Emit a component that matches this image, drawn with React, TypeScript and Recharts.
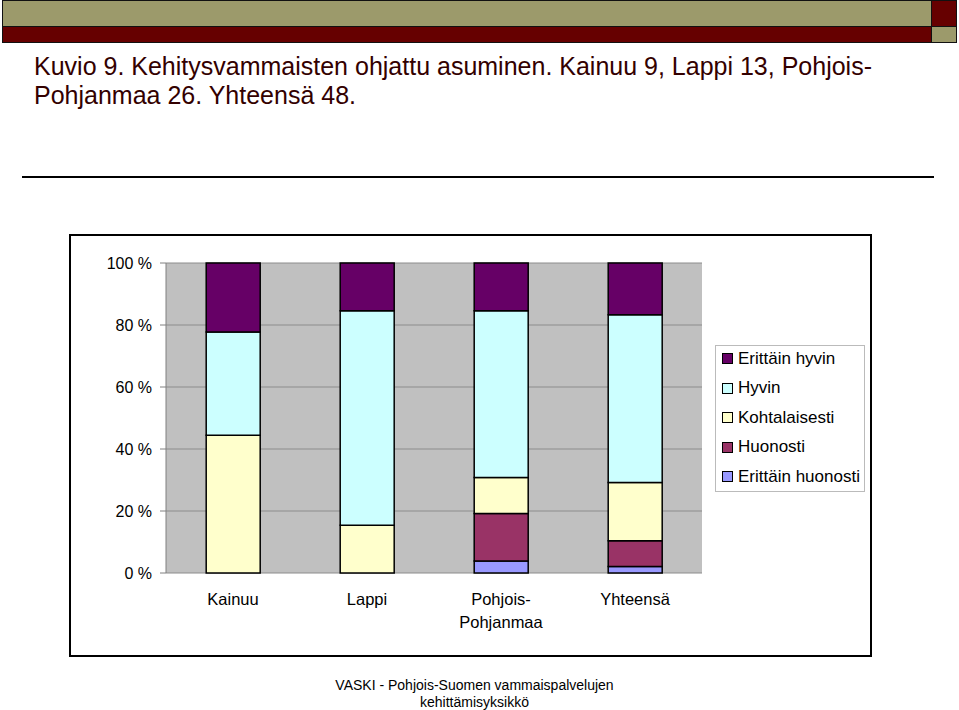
import React from "react";
import { BarChart, Bar, XAxis, YAxis, CartesianGrid } from "recharts";

// Respondent counts per region
const regions = ["Kainuu", "Lappi", "Pohjois-\nPohjanmaa", "Yhteensä"];
const erittainHuonosti = [0, 0, 1, 1];
const huonosti = [0, 0, 4, 4];
const kohtalaisesti = [4, 2, 3, 9];
const hyvin = [3, 9, 14, 26];
const erittainHyvin = [2, 2, 4, 8];

const yTicks = [0, 0.2, 0.4, 0.6, 0.8, 1];
const edgeTicks = [0, 1, 2, 3, 4];

// bottom to top stacking order
const series = [
  { key: "eh", name: "Erittäin huonosti", values: erittainHuonosti, color: "#9999FF" },
  { key: "h", name: "Huonosti", values: huonosti, color: "#993366" },
  { key: "k", name: "Kohtalaisesti", values: kohtalaisesti, color: "#FFFFCC" },
  { key: "hy", name: "Hyvin", values: hyvin, color: "#CCFFFF" },
  { key: "ehy", name: "Erittäin hyvin", values: erittainHyvin, color: "#660066" },
];

const data = regions.map((name, i) => {
  const row: Record<string, string | number> = { name };
  series.forEach((s) => (row[s.key] = s.values[i]));
  return row;
});

const FONT = "'Liberation Sans', Arial, sans-serif";
const OLIVE = "#9C9A6B";
const MAROON = "#660000";

function RegionTick(props: any) {
  const { x, y, payload } = props;
  const lines = String(payload.value).split("\n");
  return (
    <text x={x} y={y + 24} textAnchor="middle" fontSize={16.5} fill="#000" fontFamily={FONT}>
      {lines.map((l, i) => (
        <tspan key={i} x={x} dy={i === 0 ? 0 : 23}>
          {l}
        </tspan>
      ))}
    </text>
  );
}

const box = (left: number, top: number, width: number, height: number, bg: string): React.CSSProperties => ({
  position: "absolute",
  left,
  top,
  width,
  height,
  background: bg,
  border: "1px solid #111",
  boxSizing: "border-box",
});

export default function App() {
  return (
    <div
      style={{
        position: "absolute",
        left: 0,
        top: 0,
        width: 959,
        height: 710,
        background: "#fff",
        fontFamily: FONT,
        overflow: "hidden",
      }}
    >
      {/* slide header bars */}
      <div style={box(2, 0, 930, 27, OLIVE)} />
      <div style={box(2, 26, 930, 17, MAROON)} />
      <div style={box(931, 0, 26, 27, MAROON)} />
      <div style={box(931, 26, 26, 17, OLIVE)} />

      <div
        style={{
          position: "absolute",
          left: 34,
          top: 52,
          fontSize: 25,
          lineHeight: "29px",
          color: "#330000",
          whiteSpace: "nowrap",
        }}
      >
        Kuvio 9. Kehitysvammaisten ohjattu asuminen. Kainuu 9, Lappi 13, Pohjois-
        <br />
        Pohjanmaa 26. Yhteensä 48.
      </div>

      <div style={{ position: "absolute", left: 22, top: 176, width: 912, height: 2, background: "#000" }} />

      {/* chart frame */}
      <div style={{ position: "absolute", left: 69, top: 234, width: 799, height: 419, border: "2px solid #000" }} />

      <div style={{ position: "absolute", left: 0, top: 0 }}>
        <BarChart
          width={959}
          height={710}
          data={data}
          stackOffset="expand"
          barCategoryGap="30%"
          margin={{ top: 263, right: 257, bottom: 77, left: 106 }}
        >
          <CartesianGrid xAxisId="cat" vertical={false} stroke="#8c8c8c" fill="#C0C0C0" />
          <XAxis
            xAxisId="edge"
            type="number"
            domain={[0, 4]}
            ticks={edgeTicks}
            tickFormatter={() => ""}
            tickSize={6}
            height={0}
            stroke="#808080"
          />
          <XAxis
            xAxisId="cat"
            dataKey="name"
            axisLine={false}
            tickLine={false}
            height={60}
            interval={0}
            tick={<RegionTick />}
          />
          <YAxis
            width={60}
            domain={[0, 1]}
            ticks={yTicks}
            tickSize={6}
            tickMargin={8}
            stroke="#808080"
            tick={{ fill: "#000", fontSize: 16, fontFamily: FONT }}
            tickFormatter={(v: number) => `${Math.round(v * 100)} %`}
          />
          <YAxis
            yAxisId="frame"
            orientation="right"
            width={0}
            domain={[0, 1]}
            tick={false}
            tickLine={false}
            stroke="#9a9a9a"
          />
          {series.map((s) => (
            <Bar
              key={s.key}
              xAxisId="cat"
              dataKey={s.key}
              name={s.name}
              stackId="a"
              fill={s.color}
              stroke="#000"
              strokeWidth={1.5}
              isAnimationActive={false}
            />
          ))}
        </BarChart>
      </div>

      {/* legend */}
      <div
        style={{
          position: "absolute",
          left: 715,
          top: 345,
          width: 150,
          height: 147,
          border: "1px solid #bbb",
          background: "#fff",
          boxSizing: "border-box",
        }}
      >
        <div style={{ position: "relative", top: -2 }}>
          {[...series].reverse().map((s) => (
            <div key={s.key} style={{ display: "flex", alignItems: "center", height: 29.5, fontSize: 17, color: "#000" }}>
              <span
                style={{
                  display: "inline-block",
                  width: 9,
                  height: 9,
                  background: s.color,
                  border: "1px solid #000",
                  marginLeft: 6,
                  marginRight: 5,
                }}
              />
              {s.name}
            </div>
          ))}
        </div>
      </div>

      <div
        style={{
          position: "absolute",
          left: 0,
          top: 677,
          width: 949,
          textAlign: "center",
          fontSize: 14,
          lineHeight: "17px",
          color: "#000",
        }}
      >
        VASKI - Pohjois-Suomen vammaispalvelujen
        <br />
        kehittämisyksikkö
      </div>
    </div>
  );
}
